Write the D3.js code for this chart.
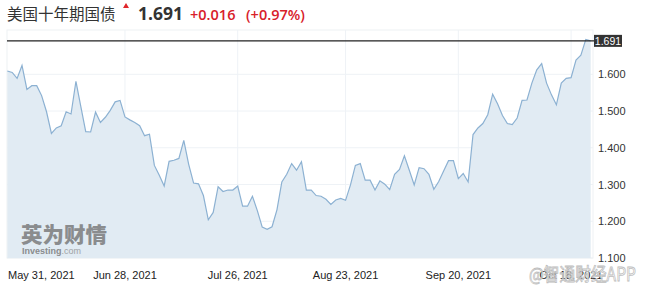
<!DOCTYPE html>
<html>
<head>
<meta charset="utf-8">
<script src="https://cdn.jsdelivr.net/npm/d3@7.9.0/dist/d3.min.js"></script>
<style>
  body { margin: 0; background: #fff; }
  svg { display: block; font-family: Arial, "Liberation Sans", sans-serif; }
</style>
</head>
<body>
<svg id="chart" width="646" height="295"></svg>
<script>
// US 10Y treasury yield, one value per point
const yields = [
  1.609, 1.605, 1.589, 1.624, 1.559, 1.569, 1.569, 1.542, 1.498, 1.439,
  1.454, 1.460, 1.498, 1.492, 1.581, 1.512, 1.444, 1.443, 1.497, 1.469,
  1.483, 1.502, 1.525, 1.529, 1.484, 1.476, 1.469, 1.460, 1.433, 1.437,
  1.352, 1.325, 1.296, 1.363, 1.366, 1.371, 1.420, 1.355, 1.304, 1.302,
  1.270, 1.204, 1.224, 1.294, 1.281, 1.285, 1.285, 1.296, 1.241, 1.241,
  1.268, 1.229, 1.184, 1.178, 1.185, 1.231, 1.307, 1.328, 1.357, 1.339,
  1.362, 1.285, 1.285, 1.270, 1.268, 1.260, 1.246, 1.258, 1.262, 1.257,
  1.299, 1.352, 1.357, 1.312, 1.312, 1.285, 1.310, 1.301, 1.286, 1.328,
  1.341, 1.378, 1.339, 1.299, 1.346, 1.343, 1.328, 1.287, 1.308, 1.337,
  1.365, 1.365, 1.316, 1.330, 1.307, 1.436, 1.454, 1.466, 1.490, 1.546,
  1.520, 1.488, 1.466, 1.463, 1.481, 1.529, 1.530, 1.576, 1.612, 1.629,
  1.576, 1.544, 1.517, 1.576, 1.589, 1.591, 1.639, 1.652, 1.695, 1.691
];
const dateLabels = ['May 31, 2021', 'Jun 28, 2021', 'Jul 26, 2021', 'Aug 23, 2021', 'Sep 20, 2021', 'Oct 18, 2021'];
const dateIndex = [0, 24, 47, 69, 92, 115];
const yTicks = [1.1, 1.2, 1.3, 1.4, 1.5, 1.6];
const lastValue = 1.691;

const svg = d3.select('#chart');
const pLeft = 7, pRight = 593, pTop = 30, pBottom = 258;

const x = d3.scaleLinear().domain([0, yields.length - 1]).range([7.3, 590.7]);
const y = d3.scaleLinear().domain([1.1, 1.6]).range([258, 74.3]);

// plot frame
svg.append('rect')
  .attr('x', pLeft).attr('y', pTop)
  .attr('width', pRight - pLeft).attr('height', pBottom - pTop)
  .attr('fill', '#fff').attr('stroke', '#eef1f4');

// grid
svg.append('g').selectAll('line').data(yTicks).join('line')
  .attr('x1', pLeft).attr('x2', pRight)
  .attr('y1', d => y(d)).attr('y2', d => y(d))
  .attr('stroke', '#eef2f6');
svg.append('g').selectAll('line').data(dateIndex.slice(1)).join('line')
  .attr('x1', d => x(d)).attr('x2', d => x(d))
  .attr('y1', pTop).attr('y2', pBottom)
  .attr('stroke', '#eef2f6');

// area + line
const area = d3.area().x((d, i) => x(i)).y0(pBottom).y1(d => y(d));
const line = d3.line().x((d, i) => x(i)).y(d => y(d));

svg.append('path').datum(yields)
  .attr('d', area)
  .attr('fill', '#e1ebf3');
svg.append('path').datum(yields)
  .attr('d', line)
  .attr('fill', 'none').attr('stroke', '#8cb1d2').attr('stroke-width', 1.2);

// watermark bottom-left
const wm = svg.append('g').attr('opacity', 0.75);
wm.append('text').attr('x', 21).attr('y', 242)
  .attr('font-family', '"Noto Sans CJK SC", sans-serif').attr('font-weight', 900)
  .attr('font-size', 21).attr('fill', '#6d6d6d')
  .attr('textLength', 86).attr('lengthAdjust', 'spacingAndGlyphs')
  .text('英为财情');
wm.append('text').attr('x', 22).attr('y', 254)
  .attr('font-size', 9).attr('font-weight', 'bold').attr('fill', '#6d6d6d')
  .text('Investing')
  .append('tspan').attr('font-weight', 'normal').attr('fill', '#8a8a8a').text('.com');

// y axis labels
svg.append('g').selectAll('text').data(yTicks).join('text')
  .attr('x', 598).attr('y', d => y(d) + 4)
  .attr('font-size', 11).attr('fill', '#333')
  .text(d => d3.format('.3f')(d));

// x axis labels
svg.append('g').selectAll('text').data(dateLabels).join('text')
  .attr('x', (d, i) => i === 0 ? 8 : x(dateIndex[i]))
  .attr('y', 279)
  .attr('text-anchor', (d, i) => i === 0 ? 'start' : 'middle')
  .attr('font-size', 11).attr('fill', '#222')
  .text(d => d);

// current value line + badge
svg.append('line')
  .attr('x1', pLeft).attr('x2', 594)
  .attr('y1', y(lastValue)).attr('y2', y(lastValue))
  .attr('stroke', '#222').attr('stroke-width', 1.3);
svg.append('rect')
  .attr('x', 594).attr('y', y(lastValue) - 6)
  .attr('width', 28).attr('height', 12)
  .attr('fill', '#333');
svg.append('text')
  .attr('x', 608).attr('y', y(lastValue) + 4)
  .attr('text-anchor', 'middle')
  .attr('font-size', 10.5).attr('fill', '#fff')
  .text(d3.format('.3f')(lastValue));

// watermark bottom-right
svg.append('text').attr('x', 529).attr('y', 281)
  .attr('font-family', '"Noto Sans CJK SC", sans-serif')
  .attr('font-size', 18).attr('fill', '#fff').attr('fill-opacity', 0.6)
  .attr('stroke', '#bdbdbd').attr('stroke-width', 0.8)
  .attr('textLength', 107).attr('lengthAdjust', 'spacingAndGlyphs')
  .text('@智通财经APP');

// header
const head = svg.append('g');
head.append('text').attr('x', 7).attr('y', 20)
  .attr('font-family', '"Noto Sans CJK SC", sans-serif')
  .attr('font-size', 15.5).attr('fill', '#333')
  .text('美国十年期国债');
head.append('path')
  .attr('d', 'M123,8 L126,3 L129,8 Z')
  .attr('fill', '#e0262b');
head.append('text').attr('x', 138).attr('y', 20)
  .attr('font-family', '"Open Sans", Arial, sans-serif').attr('font-weight', 'bold')
  .attr('font-size', 17.5).attr('fill', '#333')
  .text('1.691');
head.append('text').attr('x', 190).attr('y', 20)
  .attr('font-family', '"Open Sans", Arial, sans-serif').attr('font-weight', 600)
  .attr('font-size', 14.5).attr('fill', '#d8202a')
  .text('+0.016');
head.append('text').attr('x', 246).attr('y', 20)
  .attr('font-family', '"Open Sans", Arial, sans-serif').attr('font-weight', 600)
  .attr('font-size', 14.5).attr('fill', '#d8202a')
  .text('(+0.97%)');
</script>
</body>
</html>
